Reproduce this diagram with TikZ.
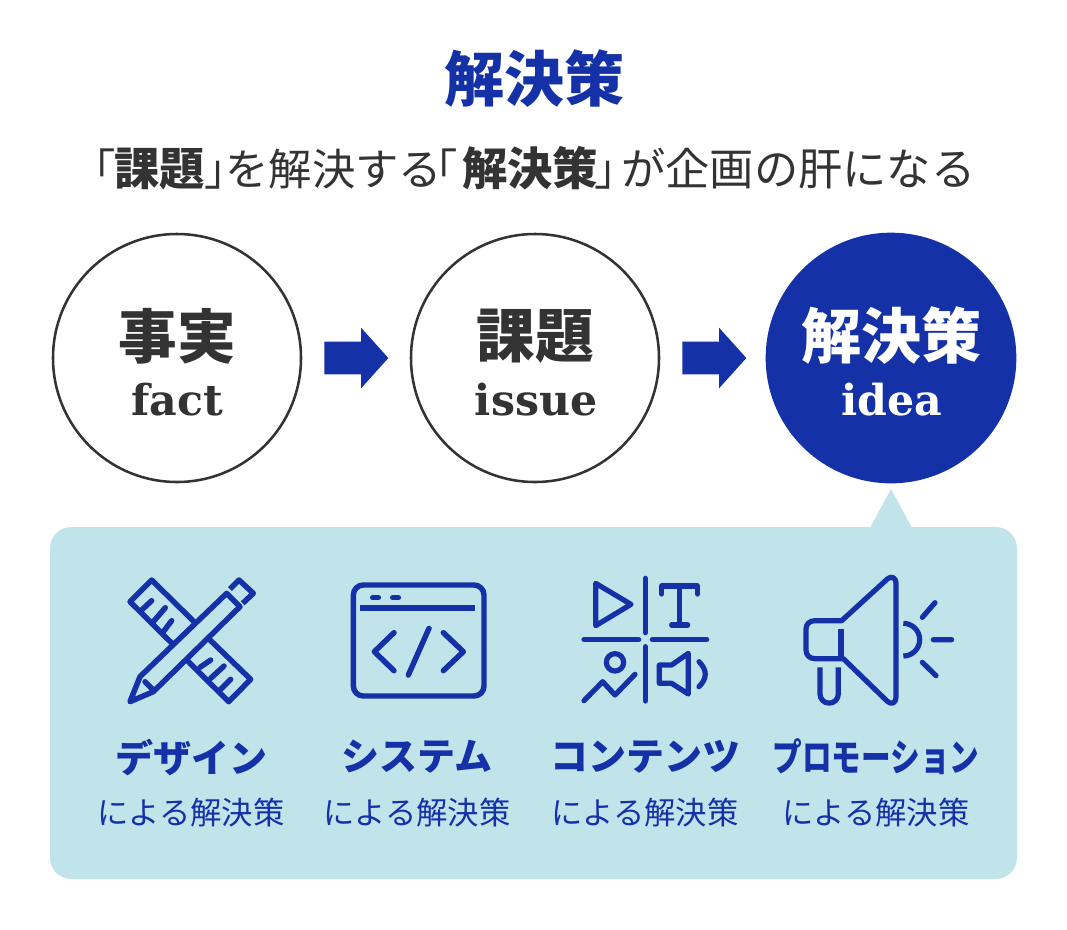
\documentclass[tikz,border=0pt]{standalone}
\usepackage{fontspec}
\setmainfont{Noto Sans CJK JP}
\newfontfamily\latinb{DejaVu Serif}
\usetikzlibrary{shapes.arrows}
\definecolor{navy}{HTML}{1431A8}
\definecolor{ink}{HTML}{333333}
\definecolor{pale}{HTML}{C1E3EA}
\newcommand{\hb}[1]{{\fontsize{34}{34}\selectfont\bfseries #1}}
\tikzset{
  ring/.style={circle,draw=ink,line width=1.9pt,fill=white,minimum size=186pt,inner sep=0},
  solid disc/.style={circle,fill=navy,minimum size=188pt,inner sep=0},
  flowarrow/.style={single arrow,fill=navy,inner ysep=12pt,inner xsep=0pt,minimum height=48pt,
     single arrow head extend=10.5pt,single arrow head indent=0pt,single arrow tip angle=96},
  bigword/.style={font=\fontsize{44}{44}\selectfont\bfseries,inner sep=0},
  enword/.style={font=\latinb\fontsize{32}{32}\selectfont\bfseries,inner sep=0,anchor=base},
  kindlabel/.style={text=navy,font=\fontsize{28.5}{30}\selectfont\bfseries,inner sep=0},
  kindsub/.style={text=navy,font=\fontsize{23.5}{25}\selectfont,inner sep=0},
  icon/.style={draw=navy,line width=4.1pt,line cap=round,line join=round},
  icon thin/.style={draw=navy,line width=3.9pt,line cap=round,line join=round},
}
\begin{document}
\begin{tikzpicture}[x=0.75pt,y=-0.75pt]
\useasboundingbox (0,0) rectangle (1067,929);
\fill[white] (0,0) rectangle (1067,929);
\node[text=navy,font=\fontsize{45}{45}\selectfont\bfseries,inner sep=0] (title) at (534,79) {解決策};
\node[text=ink,font=\fontsize{32.5}{33}\selectfont,inner sep=0,anchor=west] (sub) at (72,168) {「\kern-1.2pt\hb{課題}」\kern-17pt を解決する\kern-21pt「\kern3.5pt\hb{解決策}\kern-3pt」\kern-12pt {\fontsize{33.2}{33}\selectfont が企画の肝になる}};
% callout
\fill[pale,rounded corners=16pt] (50,527) rectangle (1017,879);
\fill[pale] (870,528) -- (891,489) -- (912,528) -- cycle;
% circles
\node[ring] (c1) at (177,358) {};
\node[ring] (c2) at (535,358) {};
\node[solid disc] (c3) at (891,358) {};
\node[flowarrow] (a1) at (349,358) {};
\node[flowarrow] (a2) at (707,358) {};
\node[bigword,text=ink] (w1) at (177,336) {事実};
\node[bigword,text=ink] (w2) at (535,336) {課題};
\node[bigword,text=white,font=\fontsize{45}{45}\selectfont\bfseries] (w3) at (891,336) {解決策};
\node[enword,text=ink] (e1) at (177,415) {fact};
\node[enword,text=ink] (e2) at (536,415) {issue};
\node[enword,text=white] (e3) at (892,415) {idea};
% labels
\node[kindlabel] (l1) at (191,757) {デザイン};
\node[kindlabel] (l2) at (417,757) {システム};
\node[kindlabel] (l3) at (645,757) {コンテンツ};
\node[kindlabel,xscale=0.78] (l4) at (876,757) {プロモーション};
\node[kindsub] (s1) at (191,813) {による解決策};
\node[kindsub] (s2) at (417,813) {による解決策};
\node[kindsub] (s3) at (645,813) {による解決策};
\node[kindsub] (s4) at (876,813) {による解決策};
% icons left
\begin{scope}[shift={(90,560)},x=0.25pt,y=-0.25pt]
  \path[icon] (312,185) -- (185,60) -- (120,125) -- (248,252);
  \path[icon] (355,235) -- (482,358) -- (416,425) -- (293,303);
  \path[icon] (155,150) -- (185,122) (190,185) -- (226,143) (220,215) -- (245,182);
  \path[icon] (330,322) -- (362,300) (362,355) -- (402,318) (392,388) -- (422,358);
  \path[icon] (120,425) -- (150,350) -- (410,100) -- (450,140) -- (190,395) -- cycle;
  \path[icon] (165,365) -- (190,390);
  \path[icon,line cap=butt] (420,87) -- (447,60) -- (490,100) -- (458,130);
  \path[icon,rounded corners=7.5pt] (790,75) rectangle (1182,408);
  \path[icon,line cap=butt,line width=4.4pt] (810,143) -- (1155,143);
  \path[icon] (848,113) -- (865,113) (908,113) -- (925,113);
  \path[icon] (912,218) -- (853,275) -- (912,332);
  \path[icon] (1060,218) -- (1120,275) -- (1060,332);
  \path[icon] (1017,205) -- (955,345);
\end{scope}
% icons right
\begin{scope}[shift={(560,560)},x=0.25pt,y=-0.25pt]
  \path[icon thin] (107,70) -- (213,133) -- (107,197) -- cycle;
  \path[icon thin] (256,55) -- (256,218) (256,260) -- (256,423);
  \path[icon thin] (72,239) -- (236,239) (277,239) -- (440,239);
  \path[icon thin] (305,102) -- (305,78) -- (413,78) -- (413,102);
  \path[icon thin] (359,78) -- (359,195) (335,195) -- (383,195);
  \path[icon thin] (165,307) circle[radius=26];
  \path[icon thin] (72,422) -- (128,365) -- (165,405) -- (225,343);
  \path[icon thin] (298,315) -- (335,315) -- (385,280) -- (385,402) -- (335,370) -- (298,370) -- cycle;
  \path[icon thin] (417,305) .. controls (442,330) and (442,355) .. (417,380);
  \path[icon thin] (845,182) -- (982,57) .. controls (995,45) and (1008,55) .. (1008,68) -- (1008,412) .. controls (1008,428) and (995,436) .. (982,424) -- (850,296) -- (765,296) .. controls (748,296) and (738,285) .. (738,270) -- (738,208) .. controls (738,192) and (748,182) .. (765,182) -- cycle;
  \path[icon thin,line cap=butt] (843,207) -- (843,296);
  \path[icon thin,line cap=butt] (780,322) -- (780,402) arc[start angle=180,end angle=0,radius=27.5] -- (835,322);
  \path[icon thin,line cap=butt] (1030,190) arc[start angle=-90,end angle=90,radius=49];
  \path[icon thin] (1087,172) -- (1125,128) (1120,239) -- (1175,239) (1087,307) -- (1128,347);
\end{scope}
\end{tikzpicture}
\end{document}
